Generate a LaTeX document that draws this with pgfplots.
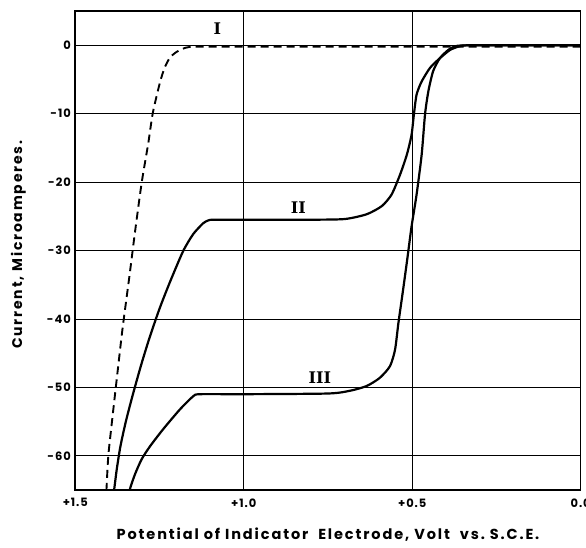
\documentclass[border=0pt]{standalone}
\usepackage{fontspec}
\setmainfont{Poppins}
\newfontfamily\numfont{DejaVu Serif}
\usepackage{pgfplots}
\pgfplotsset{compat=1.18}
\begin{document}
\begin{tikzpicture}
\useasboundingbox (-75.3pt,-58pt) rectangle (510.7pt,490pt);
\begin{axis}[
  at={(0pt,0pt)}, anchor=south west,
  scale only axis, width=505.4pt, height=479pt,
  xmin=0, xmax=1.5, ymin=-65, ymax=5, x dir=reverse,
  xtick={1.5,1.0,0.5,0}, xticklabels={+1.5,+1.0,+0.5,0.0},
  ytick={0,-10,-20,-30,-40,-50,-60}, yticklabels={0,-10,-20,-30,-40,-50,-60},
  major tick length=0pt,
  xmajorgrids, ymajorgrids,
  grid style={black, line width=0.6pt},
  axis line style={line width=1.6pt},
  tick label style={font=\fontsize{11.5}{13}\selectfont\bfseries\addfontfeatures{LetterSpace=8}},
  xticklabel style={yshift=-5pt},
  yticklabel style={xshift=-1pt},
  xlabel={Potential of Indicator\ \ Electrode,\ Volt\ \ vs.\ S.C.E.},
  ylabel={Current,\ Microamperes.},
  xlabel style={at={(axis description cs:0.5,-0.094)}, anchor=center, font=\fontsize{14.5}{16}\selectfont\bfseries\addfontfeatures{LetterSpace=13}},
  ylabel style={at={(axis description cs:-0.1128,0.512)}, anchor=center, rotate=0, font=\fontsize{14}{16}\selectfont\bfseries\addfontfeatures{LetterSpace=13}},
  clip=true,
]
% Curve I (dashed)
\addplot[black, line width=1.9pt, dash pattern=on 8pt off 5pt, smooth, tension=0.4] coordinates {
(0,-0.2) (0.4,-0.2) (0.8,-0.2) (1.10,-0.2) (1.16,-0.25) (1.180,-0.5) (1.200,-1.0)
(1.219,-1.8) (1.235,-3.3) (1.249,-5.5) (1.270,-9.9) (1.283,-14.2) (1.303,-20.1)
(1.322,-27) (1.340,-34) (1.360,-41.5) (1.377,-48.8) (1.390,-54.5) (1.402,-60) (1.408,-65.5)
};
% Curve II
\addplot[black, line width=2.2pt, smooth, tension=0.4] coordinates {
(0,0) (0.30,0) (0.350,-0.05) (0.363,-0.2) (0.388,-0.7) (0.418,-1.9) (0.447,-3.3)
(0.472,-5.3) (0.487,-7.2) (0.495,-10.1) (0.502,-13.1) (0.516,-16.0) (0.536,-18.9)
(0.561,-21.8) (0.590,-23.5) (0.635,-24.7) (0.70,-25.4) (0.80,-25.5) (1.00,-25.5) (1.09,-25.5)
(1.105,-25.6) (1.120,-26.0) (1.150,-27.6) (1.180,-30.1) (1.219,-34.6) (1.250,-38.5)
(1.280,-42.8) (1.305,-46.8) (1.330,-51.2) (1.350,-55.0) (1.366,-58.6) (1.377,-62.0) (1.386,-65.5)
};
% Curve III
\addplot[black, line width=2.2pt, smooth, tension=0.4] coordinates {
(0,0) (0.30,0) (0.368,-0.1) (0.393,-0.7) (0.418,-1.9) (0.438,-3.8) (0.452,-6.7)
(0.462,-10.1) (0.472,-16.0) (0.487,-21.8) (0.502,-26.5) (0.514,-31) (0.527,-35.7)
(0.541,-40.6) (0.551,-44.5) (0.566,-46.9) (0.596,-48.6) (0.635,-49.8) (0.685,-50.5)
(0.75,-50.9) (1.0,-51.0) (1.13,-51.0) (1.150,-51.3) (1.189,-53.2) (1.239,-56.1)
(1.278,-58.6) (1.303,-60.5) (1.322,-62.6) (1.335,-64.4) (1.341,-65.5)
};
\node[font=\numfont\fontsize{16}{16}\selectfont\bfseries] at (axis cs:1.078,2.4) {I};
\node[font=\numfont\fontsize{16}{16}\selectfont\bfseries] at (axis cs:0.838,-23.8) {II};
\node[font=\numfont\fontsize{16}{16}\selectfont\bfseries] at (axis cs:0.774,-48.6) {III};
\end{axis}
\end{tikzpicture}
\end{document}
